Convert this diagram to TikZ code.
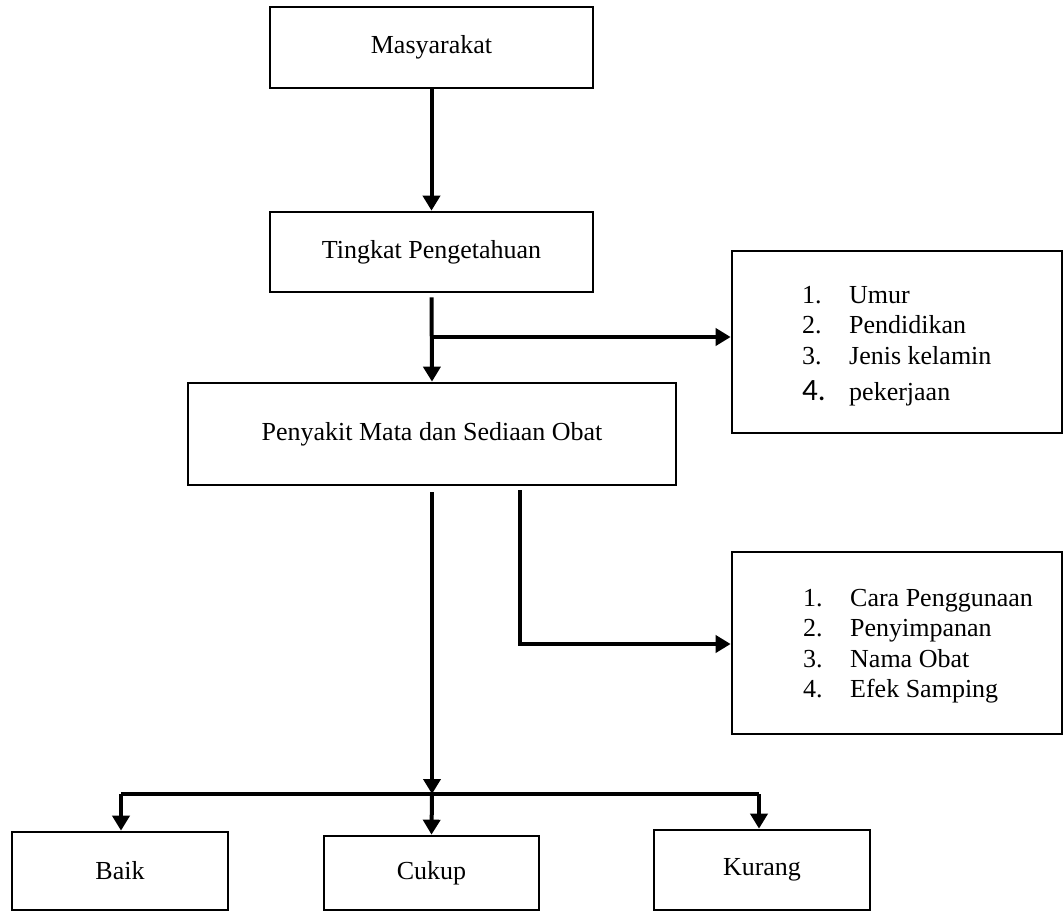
\documentclass[tikz,border=0pt]{standalone}
\usepackage{fontspec}
\setmainfont{Liberation Serif}
\newfontfamily\carlito{Carlito}
\usetikzlibrary{arrows.meta}

\begin{document}
\begin{tikzpicture}[x=1pt,y=-1pt,
    box/.style={draw, line width=2.7pt, inner sep=0pt, font=\fontsize{26}{30.5}\selectfont},
    list/.style={anchor=base west, inner sep=0pt, font=\fontsize{26}{30.5}\selectfont},
    ln/.style={line width=4pt},
    arr/.style={line width=4pt, -{Triangle[length=15pt,width=17pt]}}]
\useasboundingbox (0,0) rectangle (1064,912);
\begin{scope}
    \node[box, minimum width=323pt, minimum height=81pt] (m) at (431.5,47.5) {Masyarakat};
    \node[box, minimum width=323pt, minimum height=80pt] (t) at (431.5,252) {Tingkat Pengetahuan};
    \node[box, minimum width=488pt, minimum height=102pt] (p) at (432,434) {Penyakit Mata dan Sediaan Obat};

    \node[box, minimum width=330pt, minimum height=182pt] (f1) at (897,342) {};
    \node[box, minimum width=330pt, minimum height=182pt] (f2) at (897,643) {};
    \node[list] (l1) at (802,303) {\begin{tabular}[t]{@{}p{47pt}@{}l@{}}
        1. & Umur\\
        2. & Pendidikan\\
        3. & Jenis kelamin\\[6pt]
        {\carlito\fontsize{31}{31}\selectfont 4.} & pekerjaan
    \end{tabular}};
    \node[list] (l2) at (803,606) {\begin{tabular}[t]{@{}p{47pt}@{}l@{}}
        1. & Cara Penggunaan\\
        2. & Penyimpanan\\
        3. & Nama Obat\\
        4. & Efek Samping
    \end{tabular}};

    \node[box, minimum width=216pt, minimum height=78pt] (b) at (120,871) {Baik};
    \node[box, minimum width=215pt, minimum height=74pt] (c) at (431.5,873) {Cukup};
    \node[box, minimum width=216pt, minimum height=80pt] (k) at (762,870) {Kurang};

    \coordinate (j1) at (432,337);
    \coordinate (j2) at (432,794);
    \coordinate (s2) at (520,644);
    \coordinate (bl) at (121,794);
    \coordinate (br) at (759,794);

    \draw[arr] (m.south) -- (t.north);
    \draw[arr, shorten <=4pt] (t.south) -- (p.north);
    \draw[arr] (j1) -- (j1 -| f1.west);
    \draw[arr, shorten <=6pt] (p.south) -- (j2);
    \draw[arr, shorten <=4pt] (p.south -| s2) -- (s2) -- (s2 -| f2.west);
    \draw[ln] (bl) -- (br);
    \draw[arr] (bl) -- (bl |- b.north);
    \draw[arr] (j2) -- (c.north);
    \draw[arr] (br) -- (br |- k.north);
\end{scope}
\end{tikzpicture}
\end{document}
